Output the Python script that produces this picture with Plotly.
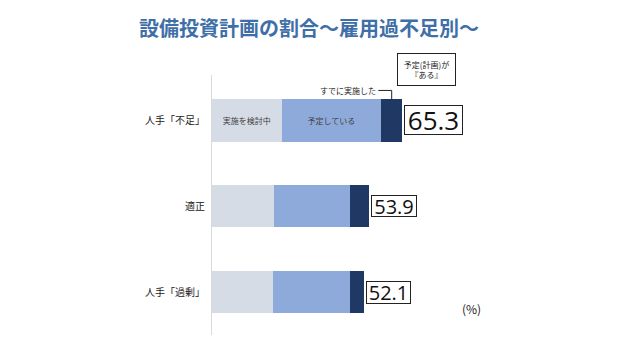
import plotly.graph_objects as go

# Share of firms with capital-investment plans, by labour-supply condition (%)
categories = ["人手「不足」", "適正", "人手「過剰」"]
considering = [23.9, 21.3, 21.0]   # 実施を検討中
planned = [34.3, 26.1, 26.3]       # 予定している
already = [7.1, 6.5, 4.8]          # すでに実施した
series_names = ["実施を検討中", "予定している", "すでに実施した"]

JP = "Noto Sans CJK JP"
colors = ["#d6dce5", "#8eaadb", "#1f3864"]

# plot-area geometry in pixels, used to place paper-referenced notes
L, T, W, H = 212, 75, 291, 260


def px_to_paper(px, py):
    return (px - L) / W, 1 - (py - T) / H


fig = go.Figure()
inside_labels = [
    [series_names[0], "", ""],
    [series_names[1], "", ""],
    ["", "", ""],
]
for vals, name, col, txt in zip([considering, planned, already], series_names, colors, inside_labels):
    fig.add_trace(go.Bar(
        y=categories, x=vals, name=name, orientation="h",
        marker=dict(color=col, line=dict(width=0)),
        text=txt, textposition="inside", insidetextanchor="middle",
        textangle=0, constraintext="none",
        textfont=dict(family=JP, size=8, color="#404040"),
        hoverinfo="skip",
    ))

totals = [round(a + b + c, 1) for a, b, c in zip(considering, planned, already)]
box_sizes = [(26, 57, 28), (20, 44, 20), (20, 43, 21)]
annotations = []
for cat, tot, (fs, w, h) in zip(categories, totals, box_sizes):
    annotations.append(dict(
        x=tot, y=cat, xref="x", yref="y", xanchor="left", yanchor="middle",
        xshift=2, text=f"{tot:.1f}", showarrow=False,
        font=dict(family="Open Sans", size=fs, color="#111"),
        bordercolor="#222", borderwidth=1, borderpad=0, bgcolor="#fff",
        width=w, height=h,
    ))

# Bracket pointing at the "already done" segment of the first row
bx = considering[0] + planned[0] + already[0] / 2
annotations.append(dict(
    x=bx, y=-0.35, xref="x", yref="y", xanchor="right", yanchor="middle",
    xshift=-14, text=series_names[2], showarrow=False,
    font=dict(family=JP, size=8, color="#222"),
))
nx, ny = px_to_paper(426, 69.5)
annotations.append(dict(
    x=nx, y=ny, xref="paper", yref="paper",
    xanchor="center", yanchor="middle",
    text="予定(計画)が<br>『ある』", showarrow=False,
    font=dict(family=JP, size=8, color="#222"),
    bordercolor="#222", borderwidth=1, borderpad=0, bgcolor="#fff",
    width=57, height=31,
))
px_, py_ = px_to_paper(471, 308)
annotations.append(dict(
    x=px_, y=py_, xref="paper", yref="paper",
    xanchor="center", yanchor="middle", text="(%)", showarrow=False,
    font=dict(family=JP, size=12, color="#222"),
))

shapes = [dict(
    type="path", xref="x", yref="y",
    path=f"M {bx - 4.6} -0.35 L {bx} -0.35 L {bx} -0.245",
    line=dict(color="#222", width=1),
)]

fig.update_layout(
    width=640, height=339,
    barmode="stack", bargap=0.51,
    showlegend=False,
    paper_bgcolor="#fff", plot_bgcolor="#fff",
    margin=dict(l=L, r=640 - L - W, t=T, b=339 - T - H),
    title=dict(
        text="<b>設備投資計画の割合～雇用過不足別～</b>",
        x=309 / 640, y=1 - 29 / 339, xanchor="center", yanchor="middle",
        font=dict(family=JP, size=20, color="#3f6fa8"),
    ),
    xaxis=dict(range=[0, 100], visible=False, fixedrange=True),
    yaxis=dict(
        range=[2.5, -0.53], showline=True, linecolor="#d9d9d9", linewidth=1,
        ticks="", showgrid=False, zeroline=False, ticklabelstandoff=4,
        tickfont=dict(family=JP, size=10, color="#222"),
    ),
    annotations=annotations,
    shapes=shapes,
)

fig.write_html("out.html")
